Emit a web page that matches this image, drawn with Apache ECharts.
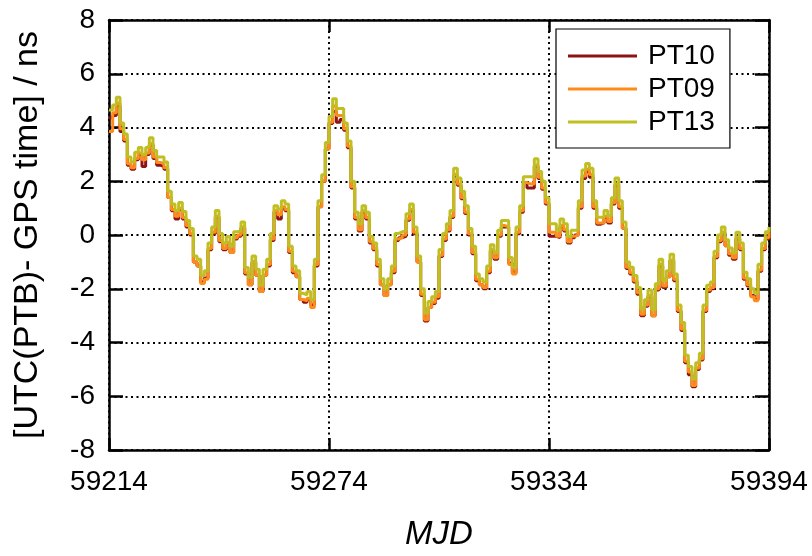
<!DOCTYPE html>
<html>
<head>
<meta charset="utf-8">
<script src="https://cdn.jsdelivr.net/npm/echarts@6/dist/echarts.min.js"></script>
<style>
html,body{margin:0;padding:0;background:#fff;}
#chart{width:812px;height:556px;}
</style>
</head>
<body>
<div id="chart"></div>
<script>
// MJD range (daily steps)
const mjdStart = 59214;
const mjdEnd = 59394;
const xTicks = [59214, 59274, 59334, 59394];
const yTicks = [-8, -6, -4, -2, 0, 2, 4, 6, 8];
const seriesNames = ['PT10', 'PT09', 'PT13'];

// UTC(PTB) - GPS time [ns], one value per day from 59214 to 59394
const pt13 = [4.65,4.84,5.13,4.17,3.76,2.9,2.72,3.08,3.26,3.0,3.26,3.62,3.14,2.9,2.9,2.72,1.63,1.15,0.91,1.21,
0.87,0.54,0.24,-0.78,-0.9,-1.51,-1.33,-0.3,0.3,0.91,0.06,-0.3,-0.06,-0.42,0.12,0.18,0.48,-1.21,-1.57,-0.78,
-1.27,-1.87,-1.27,-0.9,0.06,1.09,0.97,1.27,1.15,-0.42,-1.15,-1.33,-2.17,-2.23,-2.1,-2.4,-0.9,1.27,2.24,3.44,
4.41,5.07,4.71,4.71,4.17,3.5,2.0,0.85,0.42,1.09,0.85,-0.06,-0.3,-0.9,-1.63,-2.0,-1.63,-1.15,0.06,0.12,
0.18,0.79,1.15,0.3,-0.78,-2.0,-2.9,-2.47,-2.3,-2.1,-0.54,0.06,0.42,0.91,2.48,2.12,1.63,1.09,0.24,-0.42,
-1.45,-1.63,-1.75,-1.15,-0.36,-0.66,0.18,0.54,0.54,-0.84,-1.21,0.3,1.09,2.17,2.17,2.17,2.84,2.36,2.0,1.39,
0.42,0.42,0.18,0.6,0.42,-0.06,0.18,0.18,1.27,2.42,2.66,2.48,1.27,0.66,0.66,0.91,0.72,1.39,2.12,1.27,
0.48,-1.0,-1.2,-1.51,-1.95,-2.75,-2.41,-2.05,-2.78,-1.81,-0.9,-1.7,-1.33,-0.72,-1.45,-2.6,-3.26,-4.47,-4.89,-5.35,
-4.75,-4.4,-2.6,-1.87,-1.75,-0.6,0.0,0.3,-0.18,-0.48,-0.66,0.1,-0.3,-1.39,-1.63,-2.0,-2.17,-1.09,-0.3,0.12,
0.3];

const pt10 = [4.35,4.45,4.8,3.85,3.5,2.6,2.45,2.8,3.0,2.55,3.0,3.35,2.85,2.6,2.55,2.45,1.4,0.9,0.6,0.95,
0.6,0.3,0.0,-1.0,-1.15,-1.75,-1.6,-0.55,0.05,0.65,-0.25,-0.55,-0.3,-0.65,-0.15,-0.05,0.25,-1.45,-1.85,-1.0,
-1.5,-2.1,-1.5,-1.15,-0.2,0.85,0.6,1.0,0.9,-0.65,-1.4,-1.55,-2.4,-2.5,-2.4,-2.6,-1.15,1.05,2.0,3.2,
4.15,4.6,4.2,4.3,3.9,3.25,1.75,0.6,0.15,0.85,0.6,-0.3,-0.55,-1.15,-1.85,-2.25,-1.85,-1.4,-0.2,-0.1,
-0.05,0.55,0.9,0.05,-1.0,-2.25,-3.2,-2.7,-2.55,-2.35,-0.8,-0.2,0.15,0.65,2.2,1.85,1.35,0.8,0.0,-0.7,
-1.7,-1.85,-2.0,-1.4,-0.6,-0.9,-0.05,0.3,0.3,-1.05,-1.4,0.05,0.85,1.95,1.75,1.75,2.55,2.1,1.7,1.15,
-0.05,-0.05,-0.1,0.3,0.15,-0.3,-0.1,0.0,1.0,2.1,2.35,2.15,1.0,0.4,0.45,0.65,0.45,1.15,1.85,1.0,
0.25,-1.25,-1.45,-1.75,-2.2,-3.0,-2.65,-2.3,-3.0,-2.05,-1.15,-1.95,-1.55,-0.95,-1.7,-2.85,-3.55,-4.75,-5.2,-5.65,
-5.0,-4.65,-2.85,-2.1,-2.0,-0.85,-0.25,0.05,-0.4,-0.75,-0.9,-0.15,-0.55,-1.65,-1.9,-2.25,-2.4,-1.35,-0.55,-0.15,
0.05];

const pt09 = [3.85,4.55,4.9,3.95,3.55,2.65,2.5,2.85,3.05,2.8,3.05,3.4,2.9,2.7,2.65,2.5,1.4,0.95,0.7,1.0,
0.65,0.35,0.05,-1.0,-1.15,-1.8,-1.65,-0.5,0.1,0.7,-0.2,-0.5,-0.3,-0.65,-0.1,0.0,0.3,-1.4,-1.85,-1.0,
-1.5,-2.1,-1.5,-1.1,-0.15,0.9,0.75,1.05,0.95,-0.6,-1.35,-1.55,-2.4,-2.45,-2.35,-2.7,-1.1,1.05,2.0,3.2,
4.2,4.8,4.45,4.45,3.95,3.3,1.8,0.65,0.2,0.9,0.65,-0.25,-0.5,-1.1,-1.85,-2.25,-1.85,-1.35,-0.15,-0.1,
0.0,0.6,0.95,0.1,-1.0,-2.2,-3.15,-2.7,-2.5,-2.3,-0.75,-0.15,0.2,0.7,2.25,1.9,1.4,0.85,0.05,-0.65,
-1.65,-1.85,-1.95,-1.35,-0.55,-0.85,0.0,0.35,0.3,-1.1,-1.45,0.1,0.9,1.95,1.9,1.9,2.6,2.15,1.75,1.2,
0.1,0.1,-0.05,0.35,0.2,-0.25,-0.05,0.0,1.05,2.2,2.45,2.25,1.05,0.45,0.45,0.7,0.5,1.2,1.9,1.05,
0.25,-1.2,-1.4,-1.7,-2.15,-2.95,-2.6,-2.25,-3.0,-2.0,-1.1,-1.9,-1.55,-0.95,-1.65,-2.8,-3.5,-4.7,-5.1,-5.6,
-4.95,-4.6,-2.8,-2.05,-1.95,-0.8,-0.2,0.1,-0.4,-0.7,-0.85,-0.1,-0.5,-1.6,-1.85,-2.3,-2.45,-1.3,-0.5,-0.1,
0.1];

const colors = ['#8c1414', '#ff8c1a', '#bfbf22'];

function pairs(arr) {
  return arr.map((v, i) => [mjdStart + i, v]);
}

const FONT = '"Liberation Sans", Arial, sans-serif';
const dotted = { color: '#000', width: 2, type: [2, 3.5] };

const chart = echarts.init(document.getElementById('chart'), null, { renderer: 'canvas' });

const baseX = {
  type: 'value', min: mjdStart, max: mjdEnd, interval: 60,
  axisLine: { show: true, onZero: false, lineStyle: { color: '#000', width: 2.5 } },
  axisTick: { show: true, inside: true, length: 12, lineStyle: { color: '#000', width: 2.5 } },
  splitLine: { show: false },
  axisLabel: { show: false }
};
const baseY = {
  type: 'value', min: -8, max: 8, interval: 2,
  axisLine: { show: true, onZero: false, lineStyle: { color: '#000', width: 2.5 } },
  axisTick: { show: true, inside: true, length: 14, lineStyle: { color: '#000', width: 2.5 } },
  splitLine: { show: false },
  axisLabel: { show: false }
};

const option = {
  animation: false,
  backgroundColor: '#fff',
  textStyle: { fontFamily: FONT },
  grid: { left: 109, right: 43, top: 20, bottom: 94, containLabel: false },
  legend: {
    data: seriesNames,
    orient: 'vertical',
    left: 556, top: 29,
    backgroundColor: '#fff',
    borderColor: '#000', borderWidth: 1.2,
    padding: [13, 15, 12, 12],
    itemWidth: 69, itemHeight: 3, itemGap: 5,
    icon: 'rect',
    textStyle: { fontFamily: FONT, fontSize: 28, color: '#000', padding: [0, 0, 0, 6] }
  },
  xAxis: [
    Object.assign({}, baseX, {
      position: 'bottom',
      splitLine: { show: true, lineStyle: dotted },
      axisLabel: { show: true, fontFamily: FONT, fontSize: 28, color: '#000', margin: 18,
        formatter: v => xTicks.includes(v) ? String(v) : '' },
      name: 'MJD', nameLocation: 'middle', nameGap: 68,
      nameTextStyle: { fontFamily: FONT, fontSize: 33, fontStyle: 'italic', color: '#000' }
    }),
    Object.assign({}, baseX, { position: 'top' })
  ],
  yAxis: [
    Object.assign({}, baseY, {
      position: 'left',
      splitLine: { show: true, lineStyle: dotted },
      axisLabel: { show: true, fontFamily: FONT, fontSize: 28, color: '#000', margin: 14,
        formatter: v => yTicks.includes(v) ? String(v) : '' },
      name: '[UTC(PTB)- GPS time] / ns', nameLocation: 'middle', nameGap: 64, nameRotate: 90,
      nameTextStyle: { fontFamily: FONT, fontSize: 34, color: '#000' }
    }),
    Object.assign({}, baseY, { position: 'right' })
  ],
  series: [
    { name: 'PT10', data: pairs(pt10) },
    { name: 'PT09', data: pairs(pt09) },
    { name: 'PT13', data: pairs(pt13) }
  ].map((s, i) => ({
    name: s.name, type: 'line', step: 'end', data: s.data,
    xAxisIndex: 0, yAxisIndex: 0,
    showSymbol: false, symbol: 'none',
    color: colors[i],
    lineStyle: { color: colors[i], width: 3 },
    z: 3 + i
  }))
};
chart.setOption(option);
</script>
</body>
</html>
